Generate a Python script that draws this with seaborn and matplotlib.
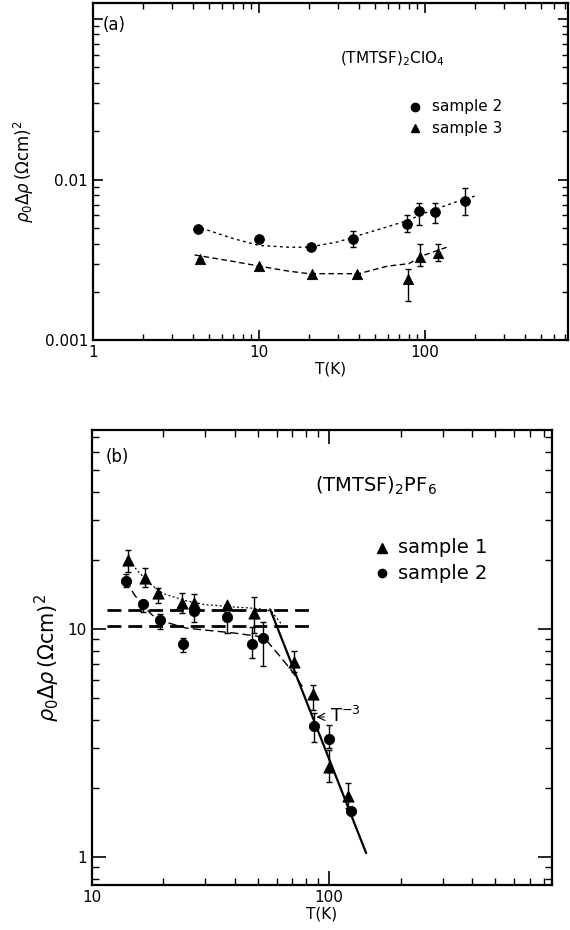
import numpy as np
import matplotlib
matplotlib.use("Agg")
import matplotlib.pyplot as plt
import matplotlib.ticker as mticker
import seaborn as sns

# panel (a): (TMTSF)2ClO4
a_s2_T = [4.3, 10, 20.6, 37, 78, 92, 116, 174]
a_s2_v = [0.0049, 0.0043, 0.0038, 0.0043, 0.0053, 0.0064, 0.0063, 0.0074]
a_s2_lo = [np.nan, np.nan, np.nan, 0.0038, 0.0047, 0.0052, 0.0054, 0.0060]
a_s2_hi = [np.nan, np.nan, np.nan, 0.0048, 0.0060, 0.0072, 0.0072, 0.0089]

a_s3_T = [4.4, 10, 21, 39, 79, 93, 120]
a_s3_v = [0.0032, 0.0029, 0.0026, 0.0026, 0.0024, 0.0033, 0.0035]
a_s3_lo = [np.nan, np.nan, np.nan, np.nan, 0.00175, 0.0029, 0.0031]
a_s3_hi = [np.nan, np.nan, np.nan, np.nan, 0.0028, 0.0040, 0.0040]

a_c2_T = [4.5, 7, 10, 15, 20, 30, 40, 60, 80, 100, 150, 200]
a_c2_v = [0.0050, 0.0043, 0.0039, 0.0038, 0.0038, 0.0041, 0.0045, 0.0051, 0.0056, 0.0062, 0.0072, 0.0079]
a_c3_T = [4.1, 7, 10, 15, 20, 30, 40, 60, 80, 100, 136]
a_c3_v = [0.0034, 0.0031, 0.0029, 0.0027, 0.0026, 0.0026, 0.0026, 0.0029, 0.0030, 0.0034, 0.0038]

# panel (b): (TMTSF)2PF6
b_s1_T = [14.2, 16.7, 19.0, 24.0, 27.0, 37.0, 48.3, 71, 85.5, 100, 120]
b_s1_v = [20.1, 16.7, 14.4, 13.0, 13.0, 12.8, 11.8, 7.2, 5.2, 2.48, 1.85]
b_s1_lo = [17.8, 15.3, 13.0, 11.8, 11.8, np.nan, 9.6, 6.5, 4.4, 2.13, 1.64]
b_s1_hi = [22.2, 18.5, 15.1, 14.4, 14.2, np.nan, 13.8, 8.0, 5.7, 2.95, 2.11]

b_s2_T = [14.0, 16.4, 19.3, 24.2, 27.0, 37.0, 47.3, 52.6, 86.5, 100, 124]
b_s2_v = [16.2, 12.9, 11.0, 8.6, 12.0, 11.3, 8.6, 9.1, 3.75, 3.3, 1.59]
b_s2_lo = [15.3, 11.9, 10.0, 7.9, 10.7, 9.6, 7.5, 6.9, 3.2, 3.0, np.nan]
b_s2_hi = [17.4, 13.4, 11.7, 9.1, 13.1, 11.9, 10.2, 10.7, 4.3, 3.8, np.nan]

b_c1_T = [14, 16, 18, 20, 25, 30, 40, 50, 57, 63]
b_c1_v = [20.5, 17.5, 15.5, 14.3, 13.3, 12.8, 12.5, 12.3, 12.0, 10.5]
b_c2_T = [14, 15, 16.5, 18, 20, 25, 30, 40, 50, 55, 62, 70, 78]
b_c2_v = [16.5, 14.3, 12.6, 11.5, 10.8, 10.1, 9.9, 9.6, 9.3, 8.8, 7.6, 6.5, 5.5]

b_fit_T = [56.4, 143]
b_fit_v = [12.2, 1.04]
b_plateau_T = [11.6, 87]
b_plateau_v = [12.1, 10.3]

sns.set_style("ticks")
plt.rcParams["font.family"] = ["DejaVu Sans"]
plt.rcParams["mathtext.fontset"] = "dejavusans"
for key in ["text.color", "axes.edgecolor", "axes.labelcolor", "xtick.color", "ytick.color"]:
    plt.rcParams[key] = "black"

fig = plt.figure(figsize=(5.7, 9.3), dpi=100)
ax_a = fig.add_axes([0.163, 0.634, 0.833, 0.363])
ax_b = fig.add_axes([0.161, 0.0484, 0.807, 0.489])


def err(v, lo, hi):
    v, lo, hi = np.array(v), np.array(lo), np.array(hi)
    return np.nan_to_num(np.vstack([v - lo, hi - v]))


def style_axis(ax):
    ax.set_xscale("log")
    ax.set_yscale("log")
    for s in ax.spines.values():
        s.set_linewidth(1.6)
    ax.tick_params(which="major", direction="in", length=7, width=1.2,
                   top=True, right=True, labelsize=11)
    ax.tick_params(which="minor", direction="in", length=4, width=1.0,
                   top=True, right=True)
    ax.xaxis.set_minor_locator(mticker.LogLocator(subs=range(2, 10)))
    ax.yaxis.set_minor_locator(mticker.LogLocator(subs=range(2, 10)))
    ax.xaxis.set_minor_formatter(mticker.NullFormatter())
    ax.yaxis.set_minor_formatter(mticker.NullFormatter())


# ---- panel (a)
style_axis(ax_a)
ax_a.set_xlim(1, 727)
ax_a.set_ylim(0.001, 0.126)
sns.lineplot(x=a_c2_T, y=a_c2_v, ax=ax_a, color="black", lw=1.0,
             linestyle=(0, (2, 2.5)), sort=False, estimator=None)
sns.lineplot(x=a_c3_T, y=a_c3_v, ax=ax_a, color="black", lw=1.0,
             linestyle=(0, (4, 2.5)), sort=False, estimator=None)
ax_a.errorbar(a_s2_T, a_s2_v, yerr=err(a_s2_v, a_s2_lo, a_s2_hi), fmt="none",
              ecolor="black", elinewidth=1.0, capsize=2)
ax_a.errorbar(a_s3_T, a_s3_v, yerr=err(a_s3_v, a_s3_lo, a_s3_hi), fmt="none",
              ecolor="black", elinewidth=1.0, capsize=2)
sns.scatterplot(x=a_s2_T, y=a_s2_v, ax=ax_a, marker="o", s=50, color="black",
                edgecolor="black", zorder=5)
sns.scatterplot(x=a_s3_T, y=a_s3_v, ax=ax_a, marker="^", s=55, color="black",
                edgecolor="black", zorder=5)
ax_a.set_xticks([1, 10, 100])
ax_a.set_xticklabels(["1", "10", "100"])
ax_a.set_yticks([0.001, 0.01, 0.1])
ax_a.set_yticklabels(["0.001", "0.01", ""])
ax_a.set_xlabel("T(K)", fontsize=11, labelpad=1)
ax_a.set_ylabel(r"$\rho_0\Delta\rho\,(\Omega\mathrm{cm})^2$", fontsize=12, labelpad=6)
ax_a.text(0.02, 0.92, "(a)", transform=ax_a.transAxes, fontsize=12)
ax_a.text(0.52, 0.82, r"(TMTSF)$_2$ClO$_4$", transform=ax_a.transAxes, fontsize=11)
ax_a.plot([0.678], [0.692], transform=ax_a.transAxes, marker="o", ms=6, color="black")
ax_a.plot([0.678], [0.628], transform=ax_a.transAxes, marker="^", ms=6, color="black")
ax_a.text(0.715, 0.692, "sample 2", transform=ax_a.transAxes, fontsize=11, va="center")
ax_a.text(0.715, 0.628, "sample 3", transform=ax_a.transAxes, fontsize=11, va="center")

# ---- panel (b)
style_axis(ax_b)
ax_b.set_xlim(10, 865)
ax_b.set_ylim(0.753, 74.6)
for pv in b_plateau_v:
    sns.lineplot(x=b_plateau_T, y=[pv, pv], ax=ax_b, color="black", lw=2.0,
                 linestyle=(0, (5, 2.5)), estimator=None)
sns.lineplot(x=b_c1_T, y=b_c1_v, ax=ax_b, color="black", lw=0.9,
             linestyle=(0, (1.5, 2)), sort=False, estimator=None)
sns.lineplot(x=b_c2_T, y=b_c2_v, ax=ax_b, color="black", lw=1.0,
             linestyle=(0, (6, 3)), sort=False, estimator=None)
sns.lineplot(x=b_fit_T, y=b_fit_v, ax=ax_b, color="black", lw=1.6,
             sort=False, estimator=None)
ax_b.errorbar(b_s1_T, b_s1_v, yerr=err(b_s1_v, b_s1_lo, b_s1_hi), fmt="none",
              ecolor="black", elinewidth=1.0, capsize=2)
ax_b.errorbar(b_s2_T, b_s2_v, yerr=err(b_s2_v, b_s2_lo, b_s2_hi), fmt="none",
              ecolor="black", elinewidth=1.0, capsize=2)
sns.scatterplot(x=b_s1_T, y=b_s1_v, ax=ax_b, marker="^", s=65, color="black",
                edgecolor="black", zorder=5)
sns.scatterplot(x=b_s2_T, y=b_s2_v, ax=ax_b, marker="o", s=55, color="black",
                edgecolor="black", zorder=5)
ax_b.annotate(r"T$^{-3}$", xy=(86, 4.1), xytext=(101, 4.15), fontsize=13,
              va="center", ha="left",
              arrowprops=dict(arrowstyle="->", lw=0.8, color="black"))
ax_b.set_xticks([10, 100])
ax_b.set_xticklabels(["10", "100"])
ax_b.set_yticks([1, 10])
ax_b.set_yticklabels(["1", "10"])
ax_b.tick_params(which="major", length=10)
ax_b.tick_params(which="minor", length=5)
ax_b.set_xlabel("T(K)", fontsize=11, labelpad=1)
ax_b.set_ylabel(r"$\rho_0\Delta\rho\,(\Omega\mathrm{cm})^2$", fontsize=15, labelpad=4)
ax_b.text(0.03, 0.93, "(b)", transform=ax_b.transAxes, fontsize=12)
ax_b.text(0.485, 0.865, r"(TMTSF)$_2$PF$_6$", transform=ax_b.transAxes, fontsize=14)
ax_b.plot([0.63], [0.742], transform=ax_b.transAxes, marker="^", ms=7, color="black")
ax_b.plot([0.63], [0.685], transform=ax_b.transAxes, marker="o", ms=6, color="black")
ax_b.text(0.665, 0.742, "sample 1", transform=ax_b.transAxes, fontsize=14, va="center")
ax_b.text(0.665, 0.685, "sample 2", transform=ax_b.transAxes, fontsize=14, va="center")

fig.savefig("out.png", dpi=100)
